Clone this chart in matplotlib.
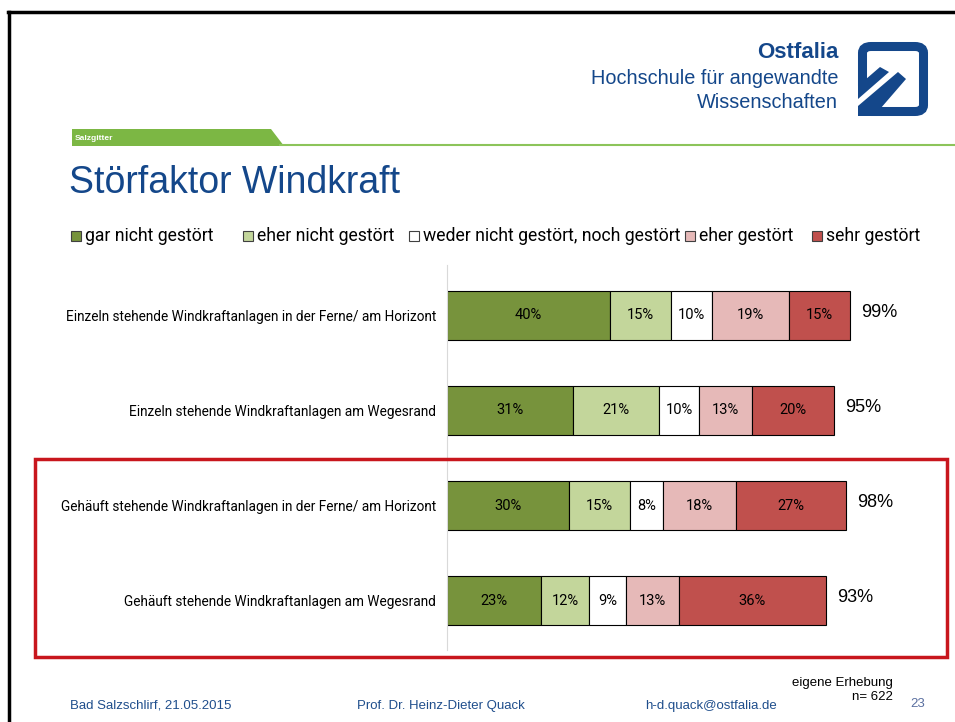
import matplotlib
matplotlib.use("Agg")
import numpy as np
import matplotlib.pyplot as plt
from matplotlib.patches import Rectangle, Polygon, FancyBboxPatch

# ---------------- datos
categorias = ["Einzeln stehende Windkraftanlagen in der Ferne/ am Horizont",
              "Einzeln stehende Windkraftanlagen am Wegesrand",
              "Gehäuft stehende Windkraftanlagen in der Ferne/ am Horizont",
              "Gehäuft stehende Windkraftanlagen am Wegesrand"]
series = ["gar nicht gestört", "eher nicht gestört",
          "weder nicht gestört, noch gestört", "eher gestört", "sehr gestört"]
gar_nicht = [40, 31, 30, 23]
eher_nicht = [15, 21, 15, 12]
weder = [10, 10, 8, 9]
eher = [19, 13, 18, 13]
sehr = [15, 20, 27, 36]
totales = [99, 95, 98, 93]
valores = [gar_nicht, eher_nicht, weder, eher, sehr]
colores = ["#77933C", "#C3D69B", "#FFFFFF", "#E6B9B8", "#C0504D"]

W, H = 955, 722
def fx(x):
    return x / W
def fy(y):
    return 1 - y / H
def poli(puntos, color):
    # poligono en pixeles de la figura
    fig.add_artist(Polygon([[fx(a), fy(b)] for a, b in puntos], closed=True,
                           fc=color, ec="none", transform=fig.transFigure))

fig = plt.figure(figsize=(W / 100, H / 100), dpi=100)
azul = "#14478A"
calibri = ["Roboto", "DejaVu Sans"]
arial = ["Liberation Sans", "DejaVu Sans"]

# marco de la diapositiva (solo izquierda y arriba)
fig.add_artist(plt.Line2D([fx(9), fx(9)], [fy(12), fy(722)], color="black", lw=2.5))
fig.add_artist(plt.Line2D([fx(8), fx(955)], [fy(12), fy(12)], color="black", lw=2.5))

# logo
fig.text(fx(838), fy(52), "Ostfalia", ha="right", va="center", fontsize=16,
         fontweight="bold", color=azul, family=arial)
fig.text(fx(838), fy(78), "Hochschule für angewandte", ha="right", va="center",
         fontsize=14.3, color=azul, family=arial)
fig.text(fx(838), fy(103), "Wissenschaften", ha="right", va="center",
         fontsize=14.3, color=azul, family=arial)
fig.add_artist(FancyBboxPatch((fx(862.5), fy(111.5)), 61 / W, 65 / H,
                              boxstyle="round,pad=0,rounding_size=0.009",
                              fc="none", ec=azul, lw=6.5, transform=fig.transFigure))
poli([(854, 86), (869, 86), (869, 120), (854, 120)], "white")
poli([(858, 86), (880, 67), (889, 72), (858, 99)], azul)
poli([(858, 106), (898, 72), (906, 79), (874, 116), (858, 116)], azul)

# banda verde "Salzgitter"
poli([(72, 129), (271, 129), (284, 146), (72, 146)], "#7CB744")
fig.add_artist(plt.Line2D([fx(280), fx(955)], [fy(145), fy(145)], color="#8CC45A", lw=1.5))
fig.text(fx(75), fy(138), "Salzgitter", ha="left", va="center", fontsize=6,
         fontweight="bold", color="white", family=arial)

# titulo
fig.text(fx(69), fy(183), "Störfaktor Windkraft", ha="left", va="center",
         fontsize=27, color=azul, family=arial)

# leyenda (manual)
leg_x = [71, 243, 409, 685, 812]
for i, nombre in enumerate(series):
    fig.add_artist(Rectangle((fx(leg_x[i]), fy(241)), 10 / W, 10 / H, fc=colores[i],
                             ec="#404040", lw=0.8, transform=fig.transFigure))
    fig.text(fx(leg_x[i] + 14), fy(236), nombre, ha="left", va="center",
             fontsize=12.7, color="black", family=calibri)

# ---------------- barras
ax = fig.add_axes([fx(447), fy(650), 407 / W, 385 / H])
y = np.arange(len(categorias))
izq = np.zeros(len(categorias))
for i, vals in enumerate(valores):
    ax.barh(y, vals, left=izq, height=0.52, color=colores[i], edgecolor="black", lw=0.8)
    for j, v in enumerate(vals):
        ax.text(izq[j] + v / 2, y[j], f"{v}%", ha="center", va="center",
                fontsize=10.5, color="black", family=calibri)
    izq = izq + np.array(vals)
for j, t in enumerate(totales):
    ax.text(izq[j] + 2.8, y[j] - 0.03, f"{t}%", ha="left", va="center",
            fontsize=13, color="black", family=arial, clip_on=False)

ax.set_xlim(0, 100)
ax.set_ylim(3.52, -0.53)
ax.set_yticks(y)
ax.set_yticklabels(categorias, fontsize=9.8, family=calibri)
ax.tick_params(axis="y", length=0, pad=8)
ax.set_xticks([])
for s in ["top", "right", "bottom"]:
    ax.spines[s].set_visible(False)
ax.spines["left"].set_color("#D9D9D9")
ax.patch.set_alpha(0)

# recuadro rojo
fig.add_artist(Rectangle((fx(35), fy(657)), 912 / W, 198 / H, fc="none",
                         ec="#C8161D", lw=2.5, transform=fig.transFigure))

# pie
fig.text(fx(70), fy(706), "Bad Salzschlirf, 21.05.2015", ha="left", va="center",
         fontsize=9.5, color="#1F4E8C", family=arial)
fig.text(fx(357), fy(706), "Prof. Dr. Heinz-Dieter Quack", ha="left", va="center",
         fontsize=9.5, color="#1F4E8C", family=arial)
fig.text(fx(645), fy(706), "h-d.quack@ostfalia.de", ha="left", va="center",
         fontsize=9.5, color="#1F4E8C", family=arial)
fig.text(fx(893), fy(683), "eigene Erhebung", ha="right", va="center",
         fontsize=9.5, color="black", family=arial)
fig.text(fx(893), fy(697), "n= 622", ha="right", va="center",
         fontsize=9.5, color="black", family=arial)
fig.text(fx(910), fy(704), "23", ha="left", va="center",
         fontsize=9.5, color="#5A6FA0", family=arial)

fig.savefig("out.png", dpi=100)
